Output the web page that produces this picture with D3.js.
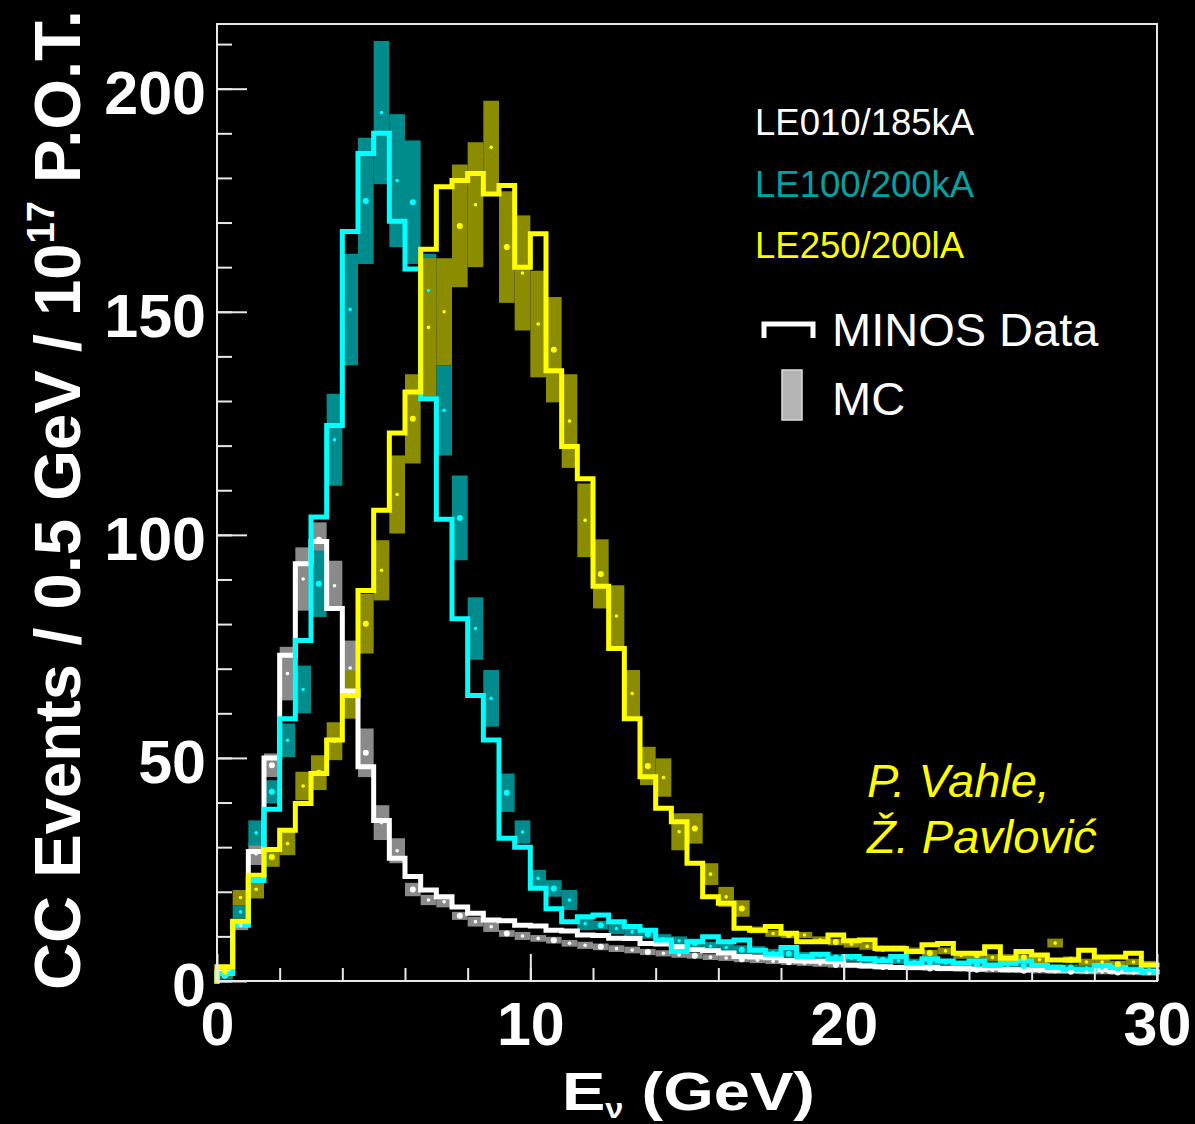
<!DOCTYPE html>
<html lang="en">
<head>
<meta charset="UTF-8">
<title>MINOS CC spectra</title>
<style>
  body { margin: 0; background: #000; }
  svg text { font-family: Arial, "Liberation Sans", sans-serif; }
</style>
</head>
<body>
<svg id="chart" width="1195" height="1124"></svg>
<script src="https://d3js.org/d3.v7.min.js"></script>
<script>
// 60 bins of 0.5 GeV from 0 to 30 GeV
var binWidth = 0.5;

// LE010/185kA (white)
var le010Data = [2, 13, 29, 50, 73, 93.5, 98.5, 83.5, 65, 48,
  36, 27.5, 23.4, 20.4, 18.9, 16.6, 15.2, 13.7, 13.5, 12.5,
  12.3, 11.4, 11.2, 10.3, 10.2, 9.6, 9.5, 8.4, 8.3, 7.7,
  7.0, 6.8, 6.3, 5.5, 5.4, 5.2, 4.6, 4.5, 4.4, 4.3,
  3.6, 3.4, 3.2, 3.0, 3.0, 3.1, 2.8, 2.8, 2.7, 2.9,
  2.6, 2.5, 2.6, 2.4, 2.4, 2.3, 2.5, 2.2, 2.2, 2.1];
var le010McLo = [0.5, 11.4, 26, 45.7, 62.9, 83, 95, 83, 64, 45.7,
  31.6, 26.4, 19, 17, 16.5, 13.7, 12.2, 11, 9.9, 9.2,
  8.8, 8.4, 7.7, 7.2, 6.9, 6.5, 6.2, 5.8, 5.5, 5.2,
  5.0, 4.7, 4.5, 4.2, 4.0, 3.8, 3.6, 3.4, 3.2, 3.0,
  2.9, 2.7, 2.6, 2.5, 2.4, 2.3, 2.2, 2.1, 2.0, 1.9,
  1.8, 1.8, 1.7, 1.6, 1.6, 1.5, 1.5, 1.4, 1.3, 1.2];
var le010McHi = [2, 13.5, 31, 51, 74.9, 97.2, 102.8, 94.2, 76.3, 56.6,
  39.4, 32, 22, 19.3, 19, 15.5, 14.4, 13.3, 11.4, 11,
  10.3, 9.9, 9.2, 8.8, 8.4, 8, 7.7, 7.2, 6.9, 6.6,
  6.3, 6.0, 5.8, 5.5, 5.3, 5.0, 4.8, 4.6, 4.4, 4.2,
  4.0, 3.8, 3.7, 3.6, 3.4, 3.3, 3.2, 3.1, 3.0, 2.9,
  2.8, 2.8, 2.7, 2.6, 2.6, 2.5, 2.5, 2.4, 2.3, 2.2];

// LE100/200kA (cyan)
var le100Data = [1.7, 12.5, 22.5, 38.5, 58.8, 76.3, 104, 124.5, 168, 185.5,
  190, 170.3, 159.6, 130.5, 103.5, 81.2, 64, 54, 32, 30,
  20.8, 16.2, 13.3, 14.4, 14.8, 13.3, 12.2, 11.4, 9.2, 6.6,
  8.8, 9.9, 8.8, 9.2, 6.9, 6.0, 7.5, 5.5, 6.0, 5.0,
  5.5, 5.0, 4.5, 5.5, 4.0, 5.0, 4.5, 4.0, 4.5, 3.5,
  4.0, 4.5, 3.5, 3.0, 2.5, 2.5, 3.5, 3.0, 2.5, 2.0];
var le100McLo = [0.3, 14, 30.4, 39.8, 50.2, 60, 81.6, 111, 138, 160.7,
  178.6, 164.5, 160.7, 146.5, 117.8, 94.3, 72, 57, 37.9, 30.8,
  21.1, 18.9, 15.9, 11.4, 11.5, 10.5, 10, 9.5, 8.5, 8,
  7.5, 6.8, 6.5, 6, 6, 5.5, 5.2, 5, 4.8, 4.5,
  4.3, 4, 4, 3.8, 3.6, 3.5, 3.3, 3.2, 3, 3,
  2.8, 2.7, 2.6, 2.5, 2.4, 2.3, 2.2, 2.1, 2, 2];
var le100McHi = [2.5, 17, 36, 45, 57.7, 70.7, 96.5, 131.6, 163, 189,
  210.7, 194.3, 188.4, 163, 138, 113.3, 86, 69.7, 46.5, 36,
  24.9, 22.6, 20.4, 14.4, 13.5, 13, 12, 11.5, 10.5, 10,
  9.5, 8.8, 8.5, 8, 7.8, 7.2, 7, 6.5, 6.3, 6,
  5.8, 5.5, 5.5, 5.2, 5, 5, 4.8, 4.6, 4.5, 4.4,
  4.2, 4, 4, 3.8, 3.7, 3.6, 3.5, 3.4, 3.3, 3.2];

// LE250/200kA (yellow)
var le250Data = [3.2, 13.4, 23.7, 29.5, 33.8, 39.8, 46.5, 54, 64, 87.5,
  105.5, 122.8, 132, 164, 178, 179.4, 181, 176.4, 178.3, 160,
  167.5, 136.8, 119.8, 112.6, 88.5, 74.5, 58.8, 45.8, 38.7, 35.7,
  26.4, 18.9, 17.4, 11.8, 11.4, 12.2, 10.7, 8.8, 8.8, 10.3,
  9.0, 9.2, 7.3, 7.3, 6.6, 8.1, 8.4, 6.2, 6.2, 7.7,
  5.1, 6.6, 5.8, 4.7, 4.7, 6.9, 5.4, 5.4, 6.2, 3.6];
var le250McLo = [1, 17, 18.5, 25.6, 28.2, 40.5, 42.8, 49.5, 58.8, 73.4,
  85.3, 100.3, 116, 131, 138, 155.5, 160, 176.4, 152, 145.8,
  135.3, 129.7, 115, 95, 83.5, 74.9, 59.2, 43.9, 41.3, 29.3,
  30.8, 21.5, 16.6, 14.4, 10.7, 9.9, 9.6, 9.6, 8.5, 8,
  7.5, 7, 6.5, 6.5, 6, 5.5, 6, 5, 5, 4.5,
  4.5, 4.5, 4, 7.5, 4, 3.5, 3.5, 3, 3.5, 3];
var le250McHi = [3.2, 20.4, 22.6, 30, 33.4, 46.9, 50.6, 58, 69.6, 86.8,
  98.8, 117.8, 136, 162, 162, 183, 188, 197.3, 177, 171.6,
  159.2, 153.3, 136, 111.5, 99, 88.7, 69.7, 52.5, 49.9, 37.6,
  37.6, 26.4, 21.1, 18.1, 12.2, 11.4, 11, 11, 10, 9.5,
  9, 8.5, 8, 8, 7.5, 7, 7.5, 6.5, 6.5, 6,
  6, 6, 5.5, 9.5, 5.5, 5, 5, 4.5, 5, 4.5];

var yMajorTicks = [0, 50, 100, 150, 200];
var xMajorTicks = [0, 10, 20, 30];

var series = [
  {name: "LE010/185kA", data: le010Data, lo: le010McLo, hi: le010McHi, line: "#ffffff", band: "#8a8a8a", text: "#ffffff"},
  {name: "LE100/200kA", data: le100Data, lo: le100McLo, hi: le100McHi, line: "#00ffff", band: "#008c8c", text: "#00a3a3"},
  {name: "LE250/200lA", data: le250Data, lo: le250McLo, hi: le250McHi, line: "#ffff00", band: "#8c8c00", text: "#ffff00"}
];

var svg = d3.select("#chart");
svg.append("rect").attr("width", 1195).attr("height", 1124).attr("fill", "#000");

var x = d3.scaleLinear().domain([0, 30]).range([217, 1157]);
var y = d3.scaleLinear().domain([0, 214.5]).range([981, 24]);

// MC bands: one solid box per bin
series.forEach(function(s) {
  svg.append("g").selectAll("rect")
    .data(s.lo)
    .enter().append("rect")
      .attr("x", function(d, i) { return x(i * binWidth); })
      .attr("width", x(binWidth) - x(0))
      .attr("y", function(d, i) { return y(s.hi[i]); })
      .attr("height", function(d, i) { return y(s.lo[i]) - y(s.hi[i]); })
      .style("fill", s.band);
});

// data histograms
var line = d3.line()
  .x(function(d) { return x(d[0]); })
  .y(function(d) { return y(d[1]); })
  .curve(d3.curveStepAfter);

series.forEach(function(s) {
  var pts = [[0, 0]];
  s.data.forEach(function(v, i) { pts.push([i * binWidth, v]); });
  pts.push([30, s.data[s.data.length - 1]]);
  svg.append("path")
    .attr("d", line(pts))
    .attr("fill", "none")
    .attr("stroke", s.line)
    .attr("stroke-width", 5)
    .attr("stroke-linejoin", "miter")
    .attr("stroke-linecap", "square");
});

// MC central points
series.forEach(function(s) {
  svg.append("g").selectAll("circle")
    .data(s.lo)
    .enter().append("circle")
      .attr("cx", function(d, i) { return x((i + 0.5) * binWidth); })
      .attr("cy", function(d, i) { return y((s.lo[i] + s.hi[i]) / 2); })
      .attr("r", function(d, i) { return i % 3 == 0 ? 3 : 1.8; })
      .attr("fill", s.line);
});

// frame
svg.append("rect")
  .attr("x", 217).attr("y", 24).attr("width", 940).attr("height", 957)
  .attr("fill", "none").attr("stroke", "#e8e8e8").attr("stroke-width", 2);

// axes
var yMinor = svg.append("g").attr("transform", "translate(217,0)")
  .call(d3.axisLeft(y).tickValues(d3.range(0, 211, 10)).tickSize(-15).tickFormat(""));
var yMajor = svg.append("g").attr("transform", "translate(217,0)")
  .call(d3.axisLeft(y).tickValues(yMajorTicks).tickSize(-30).tickPadding(11));
var xMinor = svg.append("g").attr("transform", "translate(0,981)")
  .call(d3.axisBottom(x).tickValues(d3.range(0, 31, 2)).tickSize(-13).tickFormat(""));
var xMajor = svg.append("g").attr("transform", "translate(0,981)")
  .call(d3.axisBottom(x).tickValues(xMajorTicks).tickSize(-27).tickPadding(21));

[yMinor, yMajor, xMinor, xMajor].forEach(function(g) {
  g.select(".domain").remove();
  g.selectAll("line").attr("stroke", "#e8e8e8").attr("stroke-width", 2);
  g.selectAll("text").attr("fill", "#fff").attr("font-size", 61).attr("font-weight", "bold")
    .style("font-family", "Arial, 'Liberation Sans', sans-serif");
});
yMajor.selectAll("text").attr("dy", "0.4em");

// y-axis title, squeezed to fit the height like the original
var yTitle = svg.append("text")
  .attr("fill", "#fff").attr("font-size", 65).attr("font-weight", "bold");
yTitle.append("tspan").text("CC Events / 0.5 GeV / 10");
yTitle.append("tspan").attr("font-size", 38).attr("dy", -26).text("17");
yTitle.append("tspan").attr("dy", 26).text(" P.O.T.");
var tl = yTitle.node().getComputedTextLength();
yTitle.attr("transform", "translate(80,990) rotate(-90) scale(" + (980 / tl) + ",1)");

// x-axis title, stretched a bit sideways like the original
var xTitle = svg.append("text")
  .attr("fill", "#fff").attr("font-size", 54).attr("font-weight", "bold");
xTitle.append("tspan").text("E");
xTitle.append("tspan").attr("font-size", 27).attr("dy", 8).text("ν");
xTitle.append("tspan").attr("dy", -8).text(" (GeV)");
var xl = xTitle.node().getComputedTextLength();
xTitle.attr("transform", "translate(562,1110) scale(" + (253 / xl) + ",1)");

// legend
series.forEach(function(s, i) {
  svg.append("text")
    .attr("x", 755).attr("y", 135 + i * 61.5)
    .attr("fill", s.text).attr("font-size", 36.5)
    .text(s.name);
});
svg.append("path")
  .attr("d", "M764,338V324H813V338")
  .attr("fill", "none").attr("stroke", "#fff").attr("stroke-width", 5);
svg.append("text").attr("x", 832).attr("y", 346).attr("fill", "#fff").attr("font-size", 47).text("MINOS Data");
svg.append("rect")
  .attr("x", 782).attr("y", 370).attr("width", 20).attr("height", 50)
  .attr("fill", "#b4b4b4").attr("stroke", "#dcdcdc").attr("stroke-width", 1.5);
svg.append("text").attr("x", 832).attr("y", 415).attr("fill", "#fff").attr("font-size", 47).text("MC");

// authors
svg.append("text").attr("x", 867).attr("y", 797)
  .attr("fill", "#ffff00").attr("font-size", 47).attr("font-style", "italic").text("P. Vahle,");
svg.append("text").attr("x", 867).attr("y", 853)
  .attr("fill", "#ffff00").attr("font-size", 47).attr("font-style", "italic").text("Ž. Pavlović");
</script>
</body>
</html>
